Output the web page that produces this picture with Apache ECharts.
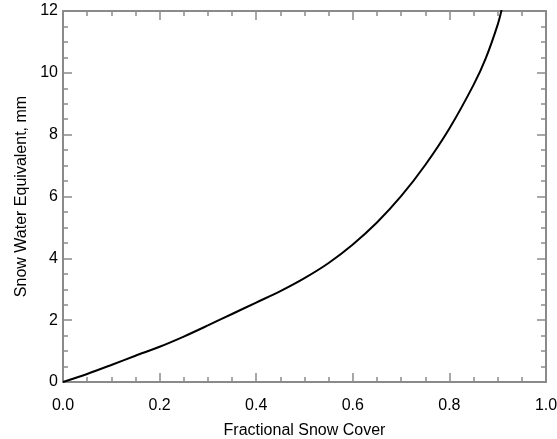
<!DOCTYPE html>
<html>
<head>
<meta charset="utf-8">
<style>html,body{margin:0;padding:0;background:#fff}#c{width:557px;height:439px}</style>
<script src="https://cdn.jsdelivr.net/npm/echarts@6/dist/echarts.min.js"></script>
</head>
<body>
<div id="c"></div>
<script>
var coverFraction = [0, 0.05, 0.1, 0.15, 0.2, 0.25, 0.3, 0.35, 0.4, 0.45, 0.5, 0.55, 0.6, 0.65, 0.7, 0.75, 0.8, 0.85, 0.875, 0.9, 0.91];
var sweMM = [0, 0.26, 0.55, 0.85, 1.14, 1.47, 1.83, 2.2, 2.57, 2.94, 3.36, 3.85, 4.45, 5.16, 6.01, 7.02, 8.2, 9.61, 10.46, 11.56, 12.16];
var xTickLabels = ['0.0', '0.2', '0.4', '0.6', '0.8', '1.0'];
var yTickLabels = ['0', '2', '4', '6', '8', '10', '12'];
var xTitle = 'Fractional Snow Cover';
var yTitle = 'Snow Water Equivalent, mm';

var axisGray = '#8a8a8a';
var pts = coverFraction.map(function (x, i) { return [x, sweMM[i]]; });
function baseAxis(extra) {
  var a = {
    type: 'value',
    axisLine: { show: true, onZero: false, lineStyle: { color: axisGray, width: 2 } },
    axisTick: { show: true, inside: true, length: 9, lineStyle: { color: axisGray, width: 1.5 } },
    minorTick: { show: true, splitNumber: 4, length: 5, lineStyle: { color: axisGray, width: 1.5 } },
    splitLine: { show: false },
    minorSplitLine: { show: false }
  };
  for (var k in extra) a[k] = extra[k];
  return a;
}
var chart = echarts.init(document.getElementById('c'));
chart.setOption({
  animation: false,
  grid: { left: 63, right: 11, top: 11, bottom: 57, containLabel: false, outerBoundsMode: 'none' },
  xAxis: [
    baseAxis({
      position: 'bottom', min: 0, max: 1, interval: 0.2,
      axisLabel: { show: true, margin: 16, color: '#000', fontFamily: 'Liberation Sans', fontSize: 16,
        formatter: function (v) { return xTickLabels[Math.round(v / 0.2)]; } },
      name: xTitle, nameLocation: 'middle', nameGap: 41,
      nameTextStyle: { color: '#000', fontFamily: 'Liberation Sans', fontSize: 16 }
    }),
    baseAxis({ position: 'top', min: 0, max: 1, interval: 0.2, axisLabel: { show: false } })
  ],
  yAxis: [
    baseAxis({
      position: 'left', min: 0, max: 12, interval: 2,
      axisLabel: { show: true, margin: 5, color: '#000', fontFamily: 'Liberation Sans', fontSize: 16,
        formatter: function (v) { return yTickLabels[Math.round(v / 2)]; } },
      name: yTitle, nameLocation: 'middle', nameGap: 33,
      nameTextStyle: { color: '#000', fontFamily: 'Liberation Sans', fontSize: 16 }
    }),
    baseAxis({ position: 'right', min: 0, max: 12, interval: 2, axisLabel: { show: false } })
  ],
  series: [{
    type: 'line',
    xAxisIndex: 0, yAxisIndex: 0,
    data: pts,
    smooth: 0.3,
    showSymbol: false,
    clip: true,
    lineStyle: { color: '#000', width: 2 }
  }]
});
</script>
</body>
</html>
